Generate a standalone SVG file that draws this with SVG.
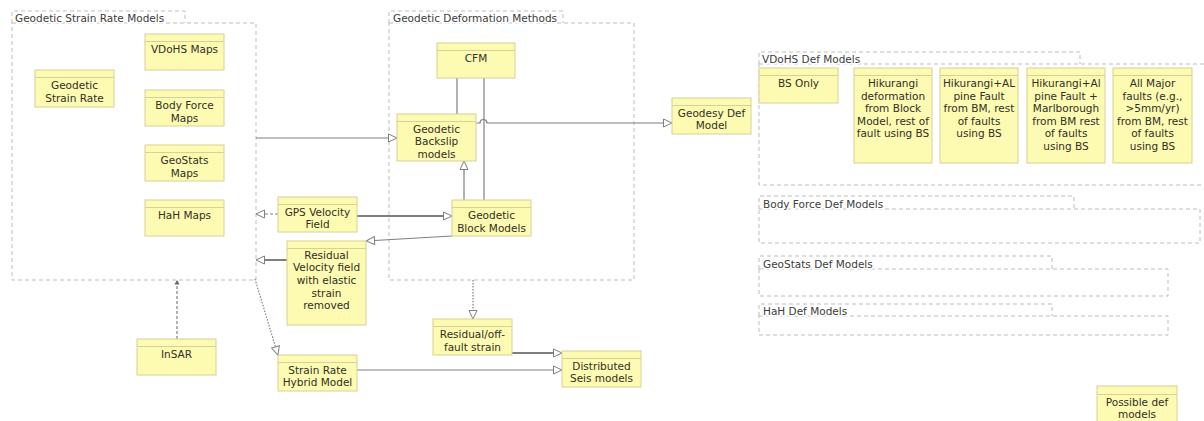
<svg xmlns="http://www.w3.org/2000/svg" width="1204" height="421" viewBox="0 0 1204 421">
<style>
.pkg{fill:none;stroke:#bdbdbd;stroke-width:1;stroke-dasharray:4 3}
.ptitle{font-family:"DejaVu Sans",sans-serif;font-size:10.5px;fill:#3c3c3c;paint-order:stroke;stroke:#fff;stroke-width:3px}
.node rect{fill:#fdfab2;stroke:#d6d296;stroke-width:1}
.node line{stroke:#d6d296;stroke-width:1}
.node text{font-family:"DejaVu Sans",sans-serif;font-size:10.5px;fill:#303025;text-anchor:middle}
.c{fill:none;stroke:#7f7f7f;stroke-width:1.2}
.thick{stroke-width:2}
.dash{stroke-dasharray:3 2}
.dot{stroke-dasharray:1.5 1.5}
</style>
<defs>
<marker id="tri" markerWidth="11" markerHeight="11" refX="1.5" refY="5.5" orient="auto" markerUnits="userSpaceOnUse">
<path d="M1.5,1.5 L10,5.5 L1.5,9.5 Z" fill="#fff" stroke="#7f7f7f" stroke-width="1"/>
</marker>
<marker id="small" markerWidth="6" markerHeight="6" refX="5" refY="3" orient="auto" markerUnits="userSpaceOnUse">
<path d="M0.5,0.5 L5,3 L0.5,5.5 Z" fill="#666" stroke="none"/>
</marker>
</defs>
<rect width="1204" height="421" fill="#fff"/>

<g id="packages">
<g id="p-strain-rate">
<path class="pkg" d="M12,23 V11 H185 V23 M12,23 H256 V280 H12 Z"/>
<text class="ptitle" x="15" y="22">Geodetic Strain Rate Models</text>
</g>
<g id="p-deformation">
<path class="pkg" d="M389,23 V11 H563 V23 M389,23 H634 V280 H389 Z"/>
<text class="ptitle" x="393" y="22">Geodetic Deformation Methods</text>
</g>
<g id="p-vdohs">
<path class="pkg" d="M759,64 V52 H1080 V64 M759,64 H1210 V185 H759 Z"/>
<text class="ptitle" x="762" y="63">VDoHS Def Models</text>
</g>
<g id="p-bodyforce">
<path class="pkg" d="M759,209 V196 H1074 V209 M759,209 H1200 V243 H759 Z"/>
<text class="ptitle" x="763" y="208">Body Force Def Models</text>
</g>
<g id="p-geostats">
<path class="pkg" d="M759,269 V256 H1052 V269 M759,269 H1168 V296 H759 Z"/>
<text class="ptitle" x="763" y="268">GeoStats Def Models</text>
</g>
<g id="p-hah">
<path class="pkg" d="M759,316 V304 H1052 V316 M759,316 H1168 V335 H759 Z"/>
<text class="ptitle" x="763" y="315">HaH Def Models</text>
</g>
</g>

<g id="connectors">
<path class="c" d="M256,138 H388.5" marker-end="url(#tri)"/>
<path class="c" d="M476,123 H480 A3.5,3.5 0 0 1 487,123 H663.5" marker-end="url(#tri)"/>
<path class="c" d="M457,78 V114"/>
<path class="c" d="M484,78 V200"/>
<path class="c" d="M464,200 V169.5" marker-end="url(#tri)"/>
<path class="c thick" d="M357,216 H443.5" marker-end="url(#tri)"/>
<path class="c dash" d="M278,214 H264.5" marker-end="url(#tri)"/>
<path class="c thick" d="M287,260 H264.5" marker-end="url(#tri)"/>
<path class="c" d="M452,236 L374.5,240.5" marker-end="url(#tri)"/>
<path class="c dash" d="M177,339 V280" marker-end="url(#small)"/>
<path class="c dot" d="M255,279 L275.5,346.9" marker-end="url(#tri)"/>
<path class="c dot" d="M473,280 V310.5" marker-end="url(#tri)"/>
<path class="c thick" d="M512,353 H553.5" marker-end="url(#tri)"/>
<path class="c" d="M357,370 H553.5" marker-end="url(#tri)"/>
</g>

<g id="n-geodetic-strain-rate" class="node">
<rect x="35" y="70" width="79" height="37"/><line x1="35" y1="77.5" x2="114" y2="77.5"/>
<text><tspan x="74.5" y="89">Geodetic</tspan><tspan x="74.5" y="101.5">Strain Rate</tspan></text>
</g>
<g id="n-vdohs-maps" class="node">
<rect x="145" y="34" width="79" height="36"/><line x1="145" y1="41.5" x2="224" y2="41.5"/>
<text><tspan x="184.5" y="53">VDoHS Maps</tspan></text>
</g>
<g id="n-bodyforce-maps" class="node">
<rect x="145" y="90" width="79" height="36"/><line x1="145" y1="97.5" x2="224" y2="97.5"/>
<text><tspan x="184.5" y="109">Body Force</tspan><tspan x="184.5" y="121.5">Maps</tspan></text>
</g>
<g id="n-geostats-maps" class="node">
<rect x="145" y="145" width="79" height="36"/><line x1="145" y1="152.5" x2="224" y2="152.5"/>
<text><tspan x="184.5" y="164">GeoStats</tspan><tspan x="184.5" y="176.5">Maps</tspan></text>
</g>
<g id="n-hah-maps" class="node">
<rect x="145" y="200" width="79" height="36"/><line x1="145" y1="207.5" x2="224" y2="207.5"/>
<text><tspan x="184.5" y="219">HaH Maps</tspan></text>
</g>
<g id="n-cfm" class="node">
<rect x="437" y="43" width="78" height="35"/><line x1="437" y1="50.5" x2="515" y2="50.5"/>
<text><tspan x="476" y="61.5">CFM</tspan></text>
</g>
<g id="n-backslip" class="node">
<rect x="397" y="114" width="79" height="47"/><line x1="397" y1="121.5" x2="476" y2="121.5"/>
<text><tspan x="436.5" y="132.5">Geodetic</tspan><tspan x="436.5" y="145">Backslip</tspan><tspan x="436.5" y="157.5">models</tspan></text>
</g>
<g id="n-block" class="node">
<rect x="452" y="200" width="79" height="36"/><line x1="452" y1="207.5" x2="531" y2="207.5"/>
<text><tspan x="491.5" y="219">Geodetic</tspan><tspan x="491.5" y="231.5">Block Models</tspan></text>
</g>
<g id="n-gps" class="node">
<rect x="278" y="197" width="79" height="35"/><line x1="278" y1="204.5" x2="357" y2="204.5"/>
<text><tspan x="317.5" y="215.5">GPS Velocity</tspan><tspan x="317.5" y="228">Field</tspan></text>
</g>
<g id="n-residual-velocity" class="node">
<rect x="287" y="241" width="79" height="84"/><line x1="287" y1="248.5" x2="366" y2="248.5"/>
<text><tspan x="326.5" y="258.5">Residual</tspan><tspan x="326.5" y="271.2">Velocity field</tspan><tspan x="326.5" y="283.9">with elastic</tspan><tspan x="326.5" y="296.6">strain</tspan><tspan x="326.5" y="309.3">removed</tspan></text>
</g>
<g id="n-insar" class="node">
<rect x="137" y="339" width="79" height="36"/><line x1="137" y1="346.5" x2="216" y2="346.5"/>
<text><tspan x="176.5" y="357.5">InSAR</tspan></text>
</g>
<g id="n-hybrid" class="node">
<rect x="278" y="355" width="79" height="36"/><line x1="278" y1="362.5" x2="357" y2="362.5"/>
<text><tspan x="317.5" y="373.5">Strain Rate</tspan><tspan x="317.5" y="386">Hybrid Model</tspan></text>
</g>
<g id="n-offfault" class="node">
<rect x="433" y="319" width="79" height="36"/><line x1="433" y1="326.5" x2="512" y2="326.5"/>
<text><tspan x="472.5" y="338">Residual/off-</tspan><tspan x="472.5" y="350.5">fault strain</tspan></text>
</g>
<g id="n-distributed" class="node">
<rect x="562" y="351" width="79" height="36"/><line x1="562" y1="358.5" x2="641" y2="358.5"/>
<text><tspan x="601.5" y="369.7">Distributed</tspan><tspan x="601.5" y="382.3">Seis models</tspan></text>
</g>
<g id="n-geodesy-def" class="node">
<rect x="672" y="98" width="79" height="36"/><line x1="672" y1="105.5" x2="751" y2="105.5"/>
<text><tspan x="711.5" y="116.7">Geodesy Def</tspan><tspan x="711.5" y="129">Model</tspan></text>
</g>
<g id="n-bs-only" class="node">
<rect x="759" y="68" width="79" height="35"/><line x1="759" y1="75.5" x2="838" y2="75.5"/>
<text><tspan x="798.5" y="87.3">BS Only</tspan></text>
</g>
<g id="n-hikurangi" class="node">
<rect x="854" y="68" width="78" height="95"/><line x1="854" y1="75.5" x2="932" y2="75.5"/>
<text><tspan x="893" y="87.3">Hikurangi</tspan><tspan x="893" y="99.8">deformation</tspan><tspan x="893" y="112.3">from Block</tspan><tspan x="893" y="124.8">Model, rest of</tspan><tspan x="893" y="137.3">fault using BS</tspan></text>
</g>
<g id="n-hikurangi-alpine" class="node">
<rect x="940" y="68" width="78" height="95"/><line x1="940" y1="75.5" x2="1018" y2="75.5"/>
<text><tspan x="979" y="87.3">Hikurangi+AL</tspan><tspan x="979" y="99.8">pine Fault</tspan><tspan x="979" y="112.3">from BM, rest</tspan><tspan x="979" y="124.8">of faults</tspan><tspan x="979" y="137.3">using BS</tspan></text>
</g>
<g id="n-hikurangi-marlborough" class="node">
<rect x="1027" y="68" width="78" height="95"/><line x1="1027" y1="75.5" x2="1105" y2="75.5"/>
<text><tspan x="1066" y="87.3">Hikurangi+Al</tspan><tspan x="1066" y="99.8">pine Fault +</tspan><tspan x="1066" y="112.3">Marlborough</tspan><tspan x="1066" y="124.8">from BM rest</tspan><tspan x="1066" y="137.3">of faults</tspan><tspan x="1066" y="149.8">using BS</tspan></text>
</g>
<g id="n-all-major" class="node">
<rect x="1113" y="68" width="79" height="95"/><line x1="1113" y1="75.5" x2="1192" y2="75.5"/>
<text><tspan x="1152.5" y="87.3">All Major</tspan><tspan x="1152.5" y="99.8">faults (e.g.,</tspan><tspan x="1152.5" y="112.3">&gt;5mm/yr)</tspan><tspan x="1152.5" y="124.8">from BM, rest</tspan><tspan x="1152.5" y="137.3">of faults</tspan><tspan x="1152.5" y="149.8">using BS</tspan></text>
</g>
<g id="n-possible" class="node">
<rect x="1097" y="386" width="80" height="40"/><line x1="1097" y1="394.5" x2="1177" y2="394.5"/>
<text><tspan x="1137" y="405.5">Possible def</tspan><tspan x="1137" y="417.5">models</tspan></text>
</g>
</svg>
